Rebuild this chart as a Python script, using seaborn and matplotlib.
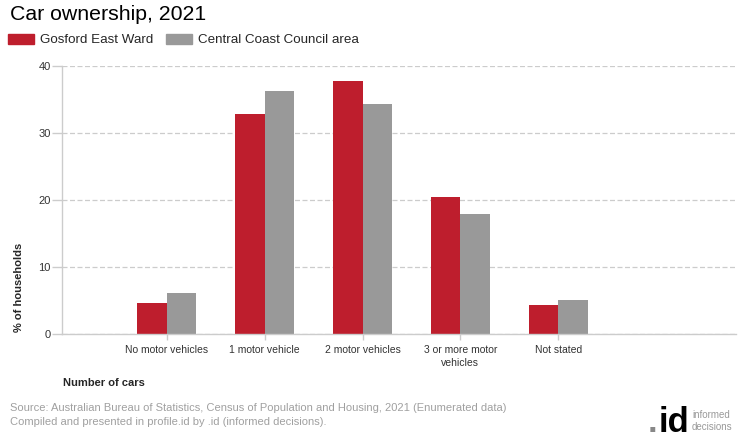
import numpy as np
import pandas as pd
import seaborn as sns
import matplotlib.pyplot as plt

# data
categories = ["No motor vehicles", "1 motor vehicle", "2 motor vehicles",
              "3 or more motor\nvehicles", "Not stated"]
series_names = ["Gosford East Ward", "Central Coast Council area"]
gosford = [4.7, 32.9, 37.8, 20.5, 4.4]
central_coast = [6.2, 36.3, 34.4, 18.0, 5.1]
y_ticks = [0, 10, 20, 30, 40]

colors = {"Gosford East Ward": "#be1e2d", "Central Coast Council area": "#999999"}

df = pd.DataFrame({
    "category": categories * 2,
    "area": [series_names[0]] * len(categories) + [series_names[1]] * len(categories),
    "value": gosford + central_coast,
})

sns.set_style("white")
plt.rcParams['font.family'] = ['Liberation Sans', 'DejaVu Sans']

fig = plt.figure(figsize=(7.4, 4.4), dpi=100)
ax = fig.add_axes([0.0838, 0.2402, 0.9108, 0.6088])

sns.barplot(data=df, x="category", y="value", hue="area", palette=colors,
            width=0.6, gap=0, saturation=1, linewidth=0, ax=ax)
ax.get_legend().remove()

ax.set_xlim(-1.07, 5.815)
ax.set_ylim(0, 40)
ax.set_yticks(y_ticks)
ax.yaxis.grid(True, color="#cccccc", linestyle=(0, (4, 2)), linewidth=0.9)
ax.set_axisbelow(True)

for side in ["top", "right"]:
    ax.spines[side].set_visible(False)
for side in ["left", "bottom"]:
    ax.spines[side].set_color("#cccccc")
    ax.spines[side].set_linewidth(1)

ax.tick_params(axis="y", length=7, width=1, color="#cccccc", labelsize=8,
               labelcolor="#333333", pad=1, left=True)
ax.tick_params(axis="x", length=4, width=1, color="#cccccc", labelsize=7.5,
               labelcolor="#333333", pad=4, bottom=True)
for lbl in ax.get_xticklabels():
    lbl.set_linespacing(1.3)
ax.set_xlabel("")
ax.set_ylabel("")

# titles and labels
fig.text(10 / 740, 1 - 14 / 440, "Car ownership, 2021", fontsize=15.3,
         ha="left", va="center", color="#000000")
fig.text(19 / 740, 1 - 332 / 440, "% of households", rotation=90, fontsize=8,
         fontweight="bold", ha="center", va="bottom")
fig.text(63 / 740, 1 - 383 / 440, "Number of cars", fontsize=8,
         fontweight="bold", ha="left", va="center")

# legend
handles = [plt.Rectangle((0, 0), 1, 1, color=colors[n]) for n in series_names]
fig.legend(handles, series_names, loc="center left",
           bbox_to_anchor=(3 / 740, 1 - 40 / 440), ncol=2, frameon=False,
           fontsize=9.6, handlelength=1.95, handleheight=0.78,
           handletextpad=0.4, columnspacing=1.0, borderaxespad=0)

# source
src_color = "#a0a0a0"
fig.text(10 / 740, 1 - 408 / 440,
         "Source: Australian Bureau of Statistics, Census of Population and Housing, 2021 (Enumerated data)",
         fontsize=8, color=src_color, ha="left", va="center")
fig.text(10 / 740, 1 - 422 / 440,
         "Compiled and presented in profile.id by .id (informed decisions).",
         fontsize=8, color=src_color, ha="left", va="center")

# logo
fig.text(689 / 740, 1 - 432 / 440, "id", fontsize=25, fontweight="bold",
         color="#000000", ha="right", va="baseline")
fig.text(657 / 740, 1 - 432 / 440, ".", fontsize=25, fontweight="bold",
         color="#888888", ha="right", va="baseline")
fig.text(692 / 740, 1 - 415 / 440, "informed", fontsize=7,
         color="#999999", ha="left", va="center")
fig.text(692 / 740, 1 - 427 / 440, "decisions", fontsize=7,
         color="#999999", ha="left", va="center")

plt.savefig("out.png", dpi=100)
